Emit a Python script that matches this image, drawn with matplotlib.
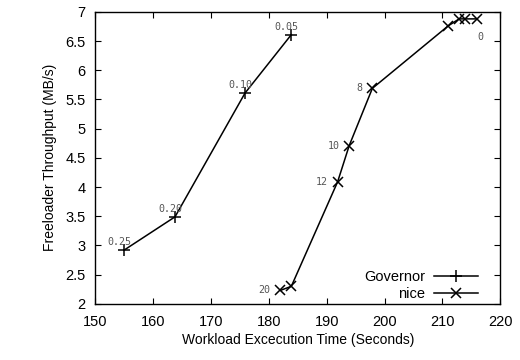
import matplotlib.pyplot as plt

plt.rcParams['font.family'] = ['Liberation Sans', 'DejaVu Sans']

gov_time = [155.0, 163.8, 175.9, 183.9]
gov_tput = [2.92, 3.49, 5.61, 6.61]
gov_labels = ['0.25', '0.20', '0.10', '0.05']

nice_time = [182.0, 183.9, 191.9, 193.9, 197.9, 211.0, 212.9, 213.9, 215.9]
nice_tput = [2.23, 2.30, 4.09, 4.71, 5.69, 6.76, 6.88, 6.88, 6.88]
nice_labels = {0: '20', 2: '12', 3: '10', 4: '8', 8: '0'}

fig, ax = plt.subplots(figsize=(5.2, 3.6), dpi=100)
fig.subplots_adjust(left=0.183, right=0.962, top=0.967, bottom=0.156)

ax.plot(gov_time, gov_tput, color='black', lw=1.1, marker='+', ms=8, mew=1.1, label='Governor')
ax.plot(nice_time, nice_tput, color='black', lw=1.1, marker='x', ms=7, mew=1.1, label='nice')

lab_font = dict(family='DejaVu Sans Mono', fontsize=7.2, color='#555555')
for x, y, s in zip(gov_time, gov_tput, gov_labels):
    ax.annotate(s, (x, y), xytext=(5, 2), textcoords='offset points',
                ha='right', va='bottom', **lab_font)
for i, s in nice_labels.items():
    if s == '0':
        ax.annotate(s, (nice_time[i], nice_tput[i]), xytext=(3, -13), textcoords='offset points',
                    ha='center', va='center', **lab_font)
    else:
        ax.annotate(s, (nice_time[i], nice_tput[i]), xytext=(-7, 0), textcoords='offset points',
                    ha='right', va='center', **lab_font)

ax.set_xlim(150, 220)
ax.set_ylim(2, 7)
ax.set_xticks(range(150, 221, 10))
ax.set_yticks([2, 2.5, 3, 3.5, 4, 4.5, 5, 5.5, 6, 6.5, 7])
ax.set_yticklabels(['2', '2.5', '3', '3.5', '4', '4.5', '5', '5.5', '6', '6.5', '7'])
ax.tick_params(direction='in', top=True, right=True, length=4, width=0.8, labelsize=10.5)
ax.tick_params(axis='x', pad=8)
ax.tick_params(axis='y', pad=7)
for sp in ax.spines.values():
    sp.set_linewidth(1.0)

ax.set_xlabel('Workload Excecution Time (Seconds)', fontsize=10, labelpad=3)
ax.set_ylabel('Freeloader Throughput (MB/s)', fontsize=10, labelpad=6)

ax.legend(loc='lower right', bbox_to_anchor=(0.97, -0.024), frameon=False, markerfirst=False,
          fontsize=10.5, handlelength=3, borderaxespad=0.3, labelspacing=0.2, handletextpad=0.6)

fig.savefig('out.png', dpi=100)
